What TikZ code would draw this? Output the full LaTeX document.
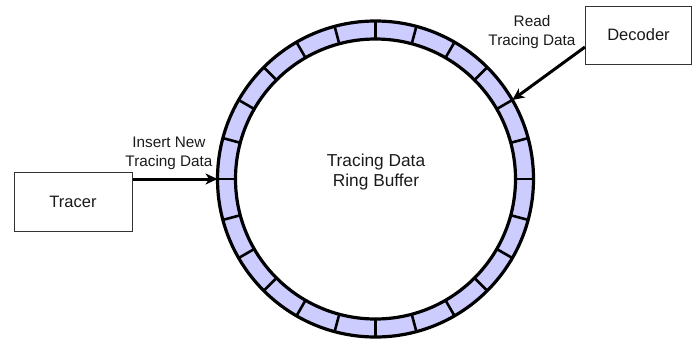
\documentclass[tikz,border=0pt]{standalone}
\usepackage{fontspec}
\setmainfont{Liberation Sans}
\usetikzlibrary{arrows.meta,calc}
\definecolor{slotfill}{HTML}{CCCCFF}
\definecolor{inktext}{HTML}{1A1A1A}
\tikzset{
  blockbox/.style={draw=black!80, line width=1pt, fill=white, inner sep=0pt,
    text=inktext, font=\fontsize{16.5}{19}\selectfont},
  flowlabel/.style={align=center, text=inktext, font=\fontsize{15.3}{18.5}\selectfont, inner sep=0pt},
  feed/.style={line width=3pt, -{Stealth[length=12pt,width=11pt,inset=3.5pt]}},
  ringedge/.style={line width=3.2pt},
  slotline/.style={line width=2.6pt}
}
\begin{document}
\begin{tikzpicture}[x=1pt,y=-1pt]
  \useasboundingbox (0,0) rectangle (693,341);
  % ring buffer geometry (y axis points down, so angles run clockwise)
  \def\Rout{158}
  \def\Rin{140}
  \coordinate (ring) at (375.5,179);
  % filled annulus
  \fill[slotfill, even odd rule] (ring) circle[radius=\Rout] (ring) circle[radius=\Rin];
  % 24 slot separators
  \foreach \a in {0,15,...,345}
    \draw[slotline] ($(ring)+(\a:\Rin)$) -- ($(ring)+(\a:\Rout)$);
  \draw[ringedge] (ring) circle[radius=\Rout];
  \draw[ringedge] (ring) circle[radius=\Rin];
  \node[align=center, text=inktext, font=\fontsize{17.3}{20}\selectfont] (ringtext) at (376,172) {Tracing Data\\Ring Buffer};

  % producer and consumer
  \node[blockbox, minimum width=118pt, minimum height=59pt] (tracer) at (73,201.5) {Tracer};
  \node[blockbox, minimum width=106pt, minimum height=58pt] (decoder) at (638.5,35) {Decoder};

  % entry points on the ring
  \coordinate (inpt) at ($(ring)+(180:\Rout)$);
  \coordinate (outpt) at ($(ring)+(-30:\Rout)$);
  \coordinate (decsrc) at ($(decoder.west)+(0,12)$);

  \draw[feed] (tracer.east |- inpt) -- (inpt);
  \draw[feed] (decsrc) -- (outpt);

  \node[flowlabel] (inlabel) at (169,153.5) {Insert New\\Tracing Data};
  \node[flowlabel] (outlabel) at (532,32) {Read\\Tracing Data};
\end{tikzpicture}
\end{document}
